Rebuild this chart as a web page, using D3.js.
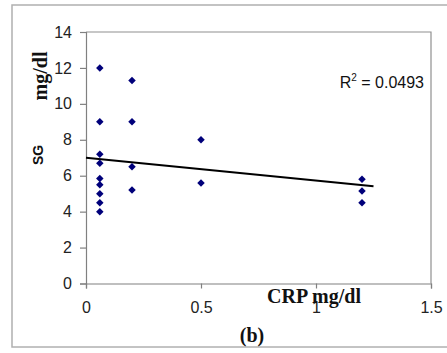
<!DOCTYPE html>
<html><head><meta charset="utf-8">
<script src="https://cdn.jsdelivr.net/npm/d3@7"></script>
<style>body{margin:0;background:#fff}svg{display:block}</style>
</head><body>
<svg id="c" width="447" height="353"></svg>
<script>
const crp = [0.06,0.06,0.06,0.06,0.06,0.06,0.06,0.06,0.06, 0.2,0.2,0.2,0.2, 0.5,0.5, 1.2,1.2,1.2];
const sg  = [12,9,7.2,6.7,5.85,5.5,5,4.5,4, 11.3,9,6.5,5.2, 8,5.6, 5.8,5.15,4.5];
const xTicks = [0,0.5,1,1.5];
const yTicks = [0,2,4,6,8,10,12,14];
const trendX = [0,1.25];
const trendY = [7.0,5.42];
const r2Label = "0.0493";

const svg = d3.select("#c");
const x = d3.scaleLinear().domain([0,1.5]).range([86,431]);
const y = d3.scaleLinear().domain([0,14]).range([283.5,32]);

// outer border
svg.append("rect").attr("x",12).attr("y",5).attr("width",440).attr("height",342)
  .attr("fill","none").attr("stroke","#b0b0b0").attr("stroke-width",1.5);

// plot area border (top/right)
svg.append("path").attr("d",`M${x(0)},${y(14)}H${x(1.5)}V${y(0)}`)
  .attr("fill","none").attr("stroke","#909090").attr("stroke-width",1.2);

const ya = svg.append("g").attr("transform",`translate(${x(0)},0)`)
  .call(d3.axisLeft(y).tickValues(yTicks).tickSize(6).tickPadding(8).tickFormat(d3.format("d")));
const xa = svg.append("g").attr("transform",`translate(0,${y(0)})`)
  .call(d3.axisBottom(x).tickValues(xTicks).tickSize(5).tickPadding(13).tickFormat(d=>String(d)));
[ya,xa].forEach(a=>{
  a.selectAll("path,line").attr("stroke","#808080").attr("stroke-width",1.2);
  a.selectAll("text").attr("font-family","Liberation Sans, Arial, sans-serif").attr("font-size",16).attr("fill","#222");
});

// trendline
svg.append("line").attr("x1",x(trendX[0])).attr("y1",y(trendY[0]))
  .attr("x2",x(trendX[1])).attr("y2",y(trendY[1]))
  .attr("stroke","#000").attr("stroke-width",2);

// points
svg.append("g").selectAll("path").data(crp.map((c,i)=>[c,sg[i]])).join("path")
  .attr("d",d3.symbol(d3.symbolSquare,28))
  .attr("transform",d=>`translate(${x(d[0])},${y(d[1])}) rotate(45)`)
  .attr("fill","#00007a");

// R2 label
const r2 = svg.append("text").attr("x",424).attr("y",88).attr("text-anchor","end")
  .attr("font-family","Liberation Sans, Arial, sans-serif").attr("font-size",16).attr("fill","#111");
r2.append("tspan").text("R");
r2.append("tspan").attr("font-size",10).attr("dy",-7).text("2");
r2.append("tspan").attr("dy",7).text(" = "+r2Label);

// axis titles
svg.append("text").attr("x",314).attr("y",303).attr("text-anchor","middle")
  .attr("font-family","Liberation Serif, Times New Roman, serif").attr("font-weight","bold")
  .attr("font-size",20).attr("fill","#111").text("CRP mg/dl");
svg.append("text").attr("transform","translate(47,76) rotate(-90)").attr("text-anchor","middle")
  .attr("font-family","Liberation Serif, Times New Roman, serif").attr("font-weight","bold")
  .attr("font-size",20).attr("fill","#111").text("mg/dl");
svg.append("text").attr("transform","translate(43,155) rotate(-90)").attr("text-anchor","middle")
  .attr("font-family","Liberation Sans, Arial, sans-serif").attr("font-weight","bold")
  .attr("font-size",14).attr("fill","#111").text("SG");
svg.append("text").attr("x",252).attr("y",342).attr("text-anchor","middle")
  .attr("font-family","Liberation Serif, Times New Roman, serif").attr("font-weight","bold")
  .attr("font-size",20).attr("fill","#111").text("(b)");
</script>
</body></html>
